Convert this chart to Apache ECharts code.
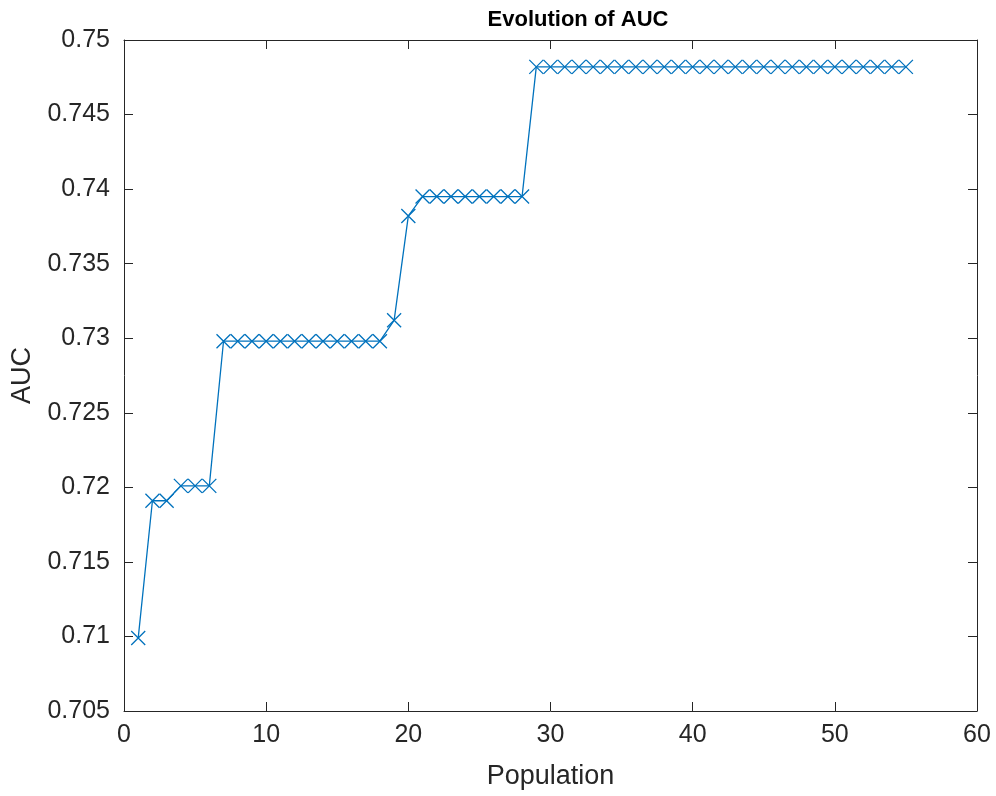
<!DOCTYPE html>
<html><head><meta charset="utf-8">
<script src="https://cdn.jsdelivr.net/npm/echarts@6/dist/echarts.min.js"></script>
<style>html,body{margin:0;padding:0;background:#fff}#c{width:996px;height:796px}</style>
</head><body><div id="c"></div>
<script>
const population = [];
for (let i = 1; i <= 55; i++) population.push(i);
const auc = [
  0.7099, 0.7191, 0.7191, 0.7201, 0.7201, 0.7201,
  0.7298, 0.7298, 0.7298, 0.7298, 0.7298, 0.7298, 0.7298, 0.7298, 0.7298, 0.7298, 0.7298, 0.7298,
  0.7312, 0.7382,
  0.7395, 0.7395, 0.7395, 0.7395, 0.7395, 0.7395, 0.7395, 0.7395,
  0.7482, 0.7482, 0.7482, 0.7482, 0.7482, 0.7482, 0.7482, 0.7482, 0.7482, 0.7482,
  0.7482, 0.7482, 0.7482, 0.7482, 0.7482, 0.7482, 0.7482, 0.7482, 0.7482, 0.7482,
  0.7482, 0.7482, 0.7482, 0.7482, 0.7482, 0.7482, 0.7482
];
const titleText = 'Evolution of AUC';
const xName = 'Population';
const yName = 'AUC';

const data = population.map((x, i) => [x, auc[i]]);
const axisCol = '#262626';
const font = 'Liberation Sans, Arial, sans-serif';
const chart = echarts.init(document.getElementById('c'));
const tick = {show: true, inside: true, length: 9, lineStyle: {color: axisCol, width: 1}};
const line = {show: true, onZero: false, lineStyle: {color: axisCol, width: 1}};
chart.setOption({
  backgroundColor: '#fff',
  animation: false,
  title: {text: titleText, left: 573, top: 4, textAlign: 'center',
    textStyle: {fontFamily: font, fontSize: 22, fontWeight: 'bold', color: '#000'}},
  grid: {left: 124, right: 19, top: 40, bottom: 85},
  xAxis: [
    {type: 'value', min: 0, max: 60, interval: 10, splitLine: {show: false}, axisLine: line,
      axisTick: tick, position: 'bottom', name: xName, nameLocation: 'middle', nameGap: 52,
      nameTextStyle: {fontFamily: font, fontSize: 27, color: axisCol},
      axisLabel: {fontFamily: font, fontSize: 25, color: axisCol, margin: 12}},
    {type: 'value', min: 0, max: 60, interval: 10, splitLine: {show: false}, axisLine: line,
      axisTick: tick, position: 'top', axisLabel: {show: false}}
  ],
  yAxis: [
    {type: 'value', min: 0.705, max: 0.75, interval: 0.005, splitLine: {show: false}, axisLine: line,
      axisTick: tick, position: 'left', name: yName, nameLocation: 'middle', nameGap: 86,
      nameTextStyle: {fontFamily: font, fontSize: 27, color: axisCol},
      axisLabel: {fontFamily: font, fontSize: 25, color: axisCol, margin: 14,
        formatter: v => String(parseFloat(v.toFixed(3)))}},
    {type: 'value', min: 0.705, max: 0.75, interval: 0.005, splitLine: {show: false}, axisLine: line,
      axisTick: tick, position: 'right', axisLabel: {show: false}}
  ],
  series: [{
    type: 'line', xAxisIndex: 0, yAxisIndex: 0, data: data,
    lineStyle: {color: '#0072BD', width: 1.3},
    symbol: 'path://M0,0L10,10M10,0L0,10', symbolSize: 14, showAllSymbol: true,
    itemStyle: {color: 'rgba(0,0,0,0)', borderColor: '#0072BD', borderWidth: 1.3}
  }]
});
</script></body></html>
